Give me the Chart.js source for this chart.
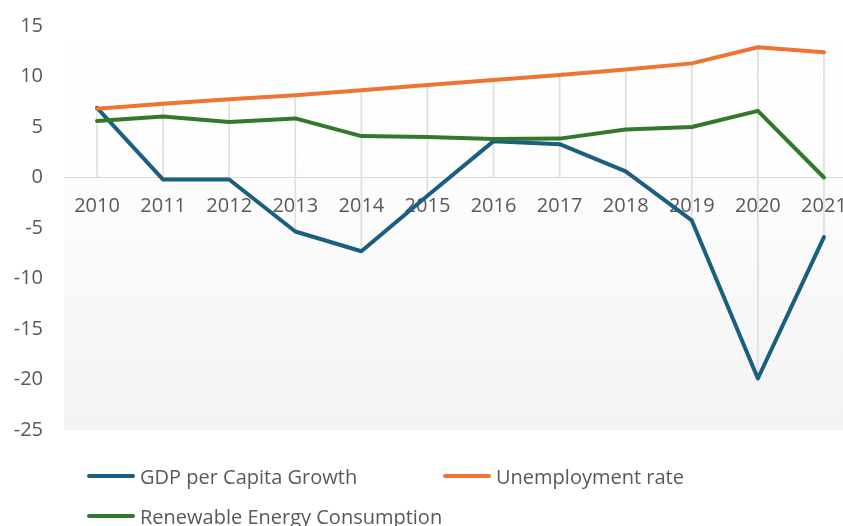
<!DOCTYPE html>
<html>
<head>
<meta charset="utf-8">
<script src="https://cdn.jsdelivr.net/npm/chart.js@4/dist/chart.umd.min.js"></script>
<style>
  html, body { margin: 0; padding: 0; background: #fff; overflow: hidden; }
  #wrap { position: relative; width: 843px; height: 526px; overflow: hidden; }
  #chart { position: absolute; left: 0; top: 0; }
  .legend-item { position: absolute; display: flex; align-items: center; height: 28px;
    font-family: 'Open Sans', sans-serif; font-size: 20px; color: #595959; white-space: nowrap; }
  .legend-swatch { width: 48px; height: 4px; border-radius: 2px; margin-right: 5px; }
</style>
</head>
<body>
<div id="wrap">
  <canvas id="chart" width="900" height="526"></canvas>
</div>
<script>
// values
const years = ['2010', '2011', '2012', '2013', '2014', '2015', '2016', '2017', '2018', '2019', '2020', '2021'];
const gdpGrowth = [6.9, -0.2, -0.2, -5.35, -7.3, -1.8, 3.6, 3.3, 0.6, -4.25, -19.9, -5.9];
const unemployment = [6.8, 7.3, 7.75, 8.15, 8.65, 9.15, 9.65, 10.15, 10.7, 11.3, 12.9, 12.4];
const renewable = [5.6, 6.05, 5.5, 5.85, 4.1, 4.0, 3.8, 3.85, 4.75, 5.0, 6.6, 0];

const seriesNames = ['GDP per Capita Growth', 'Unemployment rate', 'Renewable Energy Consumption'];
const seriesColors = ['#1b5f80', '#ef7332', '#32782d'];

const yMin = -25;
const yMax = 15;
const yStep = 5;

// drop lines: from the highest point to the lowest (or the axis) at each year
const dropLines = years.map((_, i) => [
  Math.min(0, gdpGrowth[i], unemployment[i], renewable[i]),
  Math.max(0, gdpGrowth[i], unemployment[i], renewable[i])
]);

// plot area background, white fading into light gray
const plotBackground = {
  id: 'plotBackground',
  beforeDraw(chart) {
    const { ctx, chartArea: a } = chart;
    const g = ctx.createLinearGradient(0, a.top, 0, a.bottom);
    g.addColorStop(0, '#ffffff');
    g.addColorStop(0.3, '#fefefe');
    g.addColorStop(1, '#f3f3f3');
    ctx.save();
    ctx.fillStyle = g;
    ctx.fillRect(a.left, a.top, a.right - a.left, a.bottom - a.top);
    ctx.restore();
  }
};

const lineStyle = {
  type: 'line',
  borderWidth: 4,
  pointRadius: 0,
  tension: 0,
  fill: false,
  borderJoinStyle: 'round',
  borderCapStyle: 'round'
};

new Chart(document.getElementById('chart').getContext('2d'), {
  type: 'line',
  data: {
    labels: years,
    datasets: [
      { ...lineStyle, label: seriesNames[0], data: gdpGrowth, borderColor: seriesColors[0], order: 2 },
      { ...lineStyle, label: seriesNames[1], data: unemployment, borderColor: seriesColors[1], order: 1 },
      { ...lineStyle, label: seriesNames[2], data: renewable, borderColor: seriesColors[2], order: 0 },
      { type: 'bar', label: 'drop', data: dropLines, backgroundColor: '#dedede', barThickness: 1, order: 3 }
    ]
  },
  options: {
    responsive: false,
    animation: false,
    layout: { padding: { top: 26, bottom: 96, left: 0, right: 43 } },
    plugins: {
      legend: { display: false },
      tooltip: { enabled: false }
    },
    scales: {
      x: {
        type: 'category',
        position: { y: 0 },
        offset: true,
        grid: { display: false, drawTicks: false },
        border: { display: true, color: '#d9d9d9', width: 1 },
        ticks: {
          color: '#595959',
          font: { family: "'Open Sans', sans-serif", size: 20 },
          padding: 17,
          maxRotation: 0,
          minRotation: 0,
          autoSkip: false
        },
        afterFit(scale) { scale.height = 0; }
      },
      y: {
        min: yMin,
        max: yMax,
        grid: { display: false, drawTicks: false },
        border: { display: false },
        ticks: {
          stepSize: yStep,
          color: '#595959',
          font: { family: "'Open Sans', sans-serif", size: 20 },
          padding: 21
        },
        afterFit(scale) {
          scale.width = 64;
          scale.paddingTop = 0;
          scale.paddingBottom = 0;
        }
      }
    }
  },
  plugins: [plotBackground]
});

// legend below the plot
const legendSpots = [
  { left: 87, top: 462 },
  { left: 443, top: 462 },
  { left: 87, top: 502 }
];
const wrap = document.getElementById('wrap');
seriesNames.forEach((name, i) => {
  const item = document.createElement('div');
  item.className = 'legend-item';
  item.style.left = legendSpots[i].left + 'px';
  item.style.top = legendSpots[i].top + 'px';
  const sw = document.createElement('span');
  sw.className = 'legend-swatch';
  sw.style.background = seriesColors[i];
  const txt = document.createElement('span');
  txt.textContent = name;
  item.appendChild(sw);
  item.appendChild(txt);
  wrap.appendChild(item);
});
</script>
</body>
</html>
